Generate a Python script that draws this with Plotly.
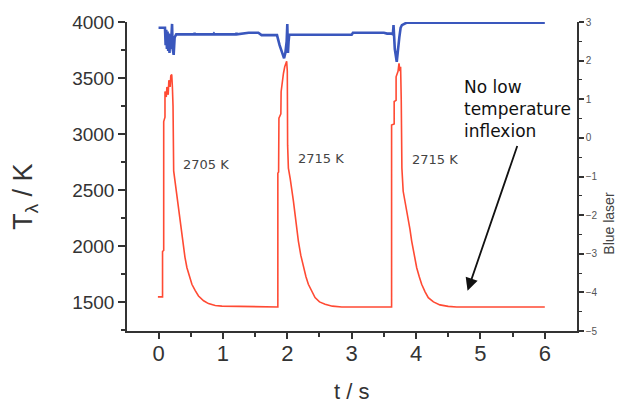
import plotly.graph_objects as go

# Temperature trace (left axis), per pulse
p1_t = [-0.01, 0.062, 0.062, 0.08, 0.08, 0.10, 0.10, 0.12, 0.13, 0.15, 0.16, 0.18, 0.19, 0.205, 0.215, 0.225, 0.235,
        0.26, 0.285, 0.31, 0.337, 0.36, 0.388, 0.41, 0.441, 0.48, 0.518, 0.57, 0.621, 0.70, 0.776, 0.88, 0.984]
p1_T = [1545, 1545, 1950, 1960, 3110, 3150, 3380, 3330, 3420, 3350, 3480, 3420, 3520, 3530, 3420, 3250, 2670,
        2560, 2458, 2340, 2221, 2100, 1983, 1900, 1805, 1725, 1657, 1600, 1553, 1510, 1485, 1468, 1462]
p2_t = [1.853, 1.853, 1.865, 1.87, 1.90, 1.904, 1.94, 1.96, 1.99, 2.0, 2.005, 2.017,
        2.045, 2.07, 2.095, 2.121, 2.145, 2.172, 2.21, 2.25, 2.29, 2.327, 2.38, 2.431, 2.50, 2.587, 2.70, 2.846]
p2_T = [1455, 2650, 2660, 3140, 3180, 3377, 3540, 3600, 3650, 3560, 2900, 2695,
        2600, 2517, 2400, 2280, 2160, 2043, 1915, 1805, 1725, 1657, 1590, 1538, 1500, 1479, 1462, 1455]
p3_t = [3.62, 3.62, 3.66, 3.66, 3.69, 3.69, 3.72, 3.735, 3.75, 3.76, 3.77, 3.78,
        3.80, 3.84, 3.879, 3.905, 3.932, 3.97, 4.01, 4.05, 4.087, 4.14, 4.19, 4.27, 4.37, 4.50, 4.63, 6.0]
p3_T = [1455, 3080, 3090, 3290, 3300, 3510, 3560, 3630, 3560, 3600, 3300, 2695,
        2488, 2370, 2250, 2150, 2043, 1920, 1805, 1725, 1657, 1590, 1538, 1500, 1473, 1460, 1455, 1455]

# Blue laser trace (right axis)
b1_t = [0.0, 0.10, 0.11, 0.12, 0.13, 0.14, 0.15, 0.16, 0.17, 0.18, 0.19, 0.20, 0.21, 0.22, 0.235, 0.25, 0.275]
b1_v = [2.85, 2.85, 2.4, 2.8, 2.3, 2.75, 2.25, 2.7, 2.2, 2.6, 2.3, 2.9, 2.95, 2.3, 2.15, 2.6, 2.68]
b2_t = [0.55, 0.56, 0.57, 0.85, 0.86, 0.87, 1.2, 1.21, 1.22, 1.4, 1.55, 1.6, 1.8, 1.84]
b2_v = [2.68, 2.71, 2.68, 2.68, 2.70, 2.68, 2.68, 2.71, 2.68, 2.72, 2.72, 2.66, 2.66, 2.66]
b3_t = [1.88, 1.9, 1.93, 1.95, 1.97, 1.99, 2.0, 2.01, 2.02, 2.03, 3.0, 3.02, 3.5, 3.55, 3.62]
b3_v = [2.4, 2.3, 2.1, 2.06, 2.2, 2.5, 2.95, 2.2, 2.5, 2.67, 2.67, 2.72, 2.72, 2.70, 2.70]
b4_t = [3.64, 3.65, 3.67, 3.70, 3.72, 3.74, 3.76, 3.78, 3.85, 6.0]
b4_v = [2.68, 2.92, 2.3, 1.97, 2.4, 2.6, 2.85, 2.92, 2.98, 2.98]

peak_labels = ["2705 K", "2715 K", "2715 K"]
peak_label_t = [0.733, 2.53, 4.29]
peak_label_T = [2728, 2781, 2772]

t_red = p1_t + p2_t + p3_t
T_red = p1_T + p2_T + p3_T
t_blue = b1_t + b2_t + b3_t + b4_t
v_blue = b1_v + b2_v + b3_v + b4_v

W, H = 621, 403
L, R, T, B = 127, 44, 20, 72
pw, ph = W - L - R, H - T - B


def px(x):
    return (x - L) / pw


def py(y):
    return (H - B - y) / ph


fig = go.Figure()
fig.add_trace(go.Scatter(x=t_red, y=T_red, mode="lines",
                         line=dict(color="#ff4a33", width=1.6), yaxis="y", showlegend=False))
fig.add_trace(go.Scatter(x=t_blue, y=v_blue, mode="lines",
                         line=dict(color="#3a57bd", width=2.6), yaxis="y2", showlegend=False))

for txt, tx, ty in zip(peak_labels, peak_label_t, peak_label_T):
    fig.add_annotation(x=tx, y=ty, xref="x", yref="y", text=txt, showarrow=False,
                       font=dict(family="DejaVu Sans", size=13, color="#444"))

fig.add_annotation(x=4.71, y=3226, xref="x", yref="y", xanchor="left", yanchor="middle", align="left",
                   text="No low<br>temperature<br>inflexion", showarrow=False,
                   font=dict(family="DejaVu Sans", size=17, color="#111"))
fig.add_annotation(x=4.8, y=1600, ax=5.58, ay=2906, xref="x", yref="y", axref="x", ayref="y",
                   text="", showarrow=True, arrowhead=2, arrowsize=1.4, arrowwidth=1.8,
                   arrowcolor="#111")

# axis titles placed as annotations
fig.add_annotation(x=px(25), y=py(196), xref="paper", yref="paper", xanchor="center", yanchor="middle",
                   text="T<sub>λ</sub> / K", showarrow=False, textangle=-90,
                   font=dict(family="Arial", size=27, color="#333"))
fig.add_annotation(x=px(609), y=py(223), xref="paper", yref="paper", xanchor="center", yanchor="middle",
                   text="Blue laser", showarrow=False, textangle=-90,
                   font=dict(family="Arial", size=14, color="#444"))
fig.add_annotation(x=px(351), y=py(392), xref="paper", yref="paper", xanchor="center", yanchor="middle",
                   text="t / s", showarrow=False,
                   font=dict(family="Arial", size=22, color="#333"))

fig.update_layout(
    width=W, height=H,
    margin=dict(l=L, r=R, t=T, b=B),
    paper_bgcolor="white", plot_bgcolor="white",
    xaxis=dict(range=[-0.49, 6.5], tickmode="array", tickvals=[0, 1, 2, 3, 4, 5, 6],
               ticks="outside", ticklen=6, tickwidth=1.5, tickcolor="#333", ticklabelstandoff=-4,
               minor=dict(tickvals=[0.5, 1.5, 2.5, 3.5, 4.5, 5.5], ticks="outside", ticklen=4,
                          tickwidth=1.5, tickcolor="#333"),
               showline=True, linecolor="#333", linewidth=1.5, showgrid=False, zeroline=False,
               tickfont=dict(family="Arial", size=22, color="#333")),
    yaxis=dict(range=[1240, 4000], tickmode="array",
               tickvals=[1500, 2000, 2500, 3000, 3500, 4000],
               ticks="outside", ticklen=7, tickwidth=1.5, tickcolor="#333",
               minor=dict(tickvals=[1250, 1750, 2250, 2750, 3250, 3750], ticks="outside", ticklen=4,
                          tickwidth=1.5, tickcolor="#333"),
               showline=True, linecolor="#333", linewidth=1.5, showgrid=False, zeroline=False,
               tickfont=dict(family="Arial", size=19, color="#333")),
    yaxis2=dict(range=[-5, 3], overlaying="y", side="right", tickmode="array",
                tickvals=[-5, -4, -3, -2, -1, 0, 1, 2, 3],
                ticks="outside", ticklen=5, tickwidth=1.5, tickcolor="#333",
                minor=dict(tickvals=[-4.5, -3.5, -2.5, -1.5, -0.5, 0.5, 1.5, 2.5], ticks="outside",
                           ticklen=3, tickwidth=1.2, tickcolor="#333"),
                showline=True, linecolor="#333", linewidth=1.5, showgrid=False, zeroline=False,
                tickfont=dict(family="Arial", size=10, color="#555")),
)

fig.write_html("out.html")
